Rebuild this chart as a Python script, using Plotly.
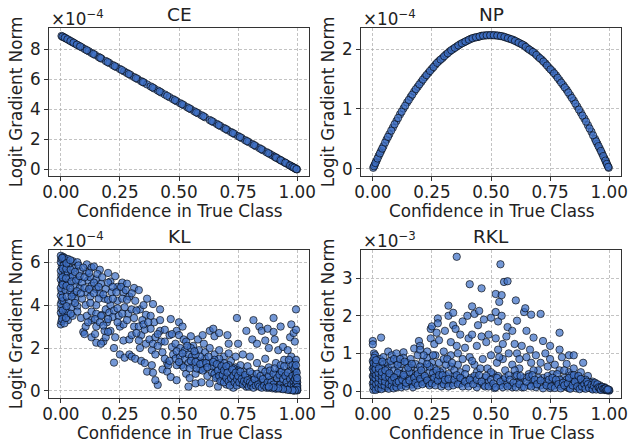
import plotly.graph_objects as go

TITLES = ["CE", "NP", "KL", "RKL"]
X_LABEL = "Confidence in True Class"
Y_LABEL = "Logit Gradient Norm"
X_TICKS = [0, 0.25, 0.5, 0.75, 1]
X_TICK_TEXT = ["0.00", "0.25", "0.50", "0.75", "1.00"]

ce_points = [(.003,8.90),(.012,8.82),(.021,8.74),(.035,8.62),(.048,8.50),(.06,8.39),(.075,8.26),(.09,8.13),(.102,8.02),(.118,7.88),(.13,7.77),(.145,7.64),(.16,7.50),(.172,7.39),(.19,7.23),(.205,7.10),(.22,6.96),(.235,6.83),(.25,6.70),(.268,6.54),(.28,6.43),(.295,6.30),(.31,6.16),(.325,6.03),(.34,5.89),(.352,5.79),(.365,5.67),(.38,5.54),(.395,5.40),(.41,5.27),(.425,5.13),(.44,5.00),(.46,4.82),(.475,4.69),(.49,4.55),(.505,4.42),(.52,4.29),(.535,4.15),(.55,4.02),(.565,3.88),(.58,3.75),(.595,3.62),(.61,3.48),(.63,3.30),(.645,3.17),(.66,3.04),(.675,2.90),(.69,2.77),(.705,2.63),(.72,2.50),(.735,2.37),(.75,2.23),(.765,2.10),(.78,1.96),(.795,1.83),(.81,1.70),(.825,1.56),(.84,1.43),(.855,1.29),(.87,1.16),(.885,1.03),(.895,.94),(.905,.85),(.915,.76),(.925,.67),(.935,.58),(.945,.49),(.955,.40),(.965,.31),(.975,.22),(.983,.15),(.99,.09),(.995,.04),(.999,.01),
(.007,8.86),(.017,8.78),(.028,8.68),(.041,8.56),(.054,8.45),(.068,8.32),(.082,8.20),(.11,7.95),(.138,7.70),(.167,7.44),(.198,7.16),(.228,6.89),(.258,6.63),(.288,6.36),(.318,6.09),(.347,5.83),(.388,5.47),(.418,5.20),(.45,4.91),(.483,4.62),(.513,4.35),(.543,4.08),(.573,3.81),(.603,3.55),(.638,3.23),(.668,2.96),(.698,2.70),(.728,2.43),(.758,2.16),(.788,1.89),(.818,1.63),(.848,1.36),(.878,1.09),(.91,.80),(.93,.62),(.95,.45),(.97,.27),(.98,.18),(.987,.12),(.997,.03)]

np_points = [(.002,.02),(.008,.07),(.015,.13),(.025,.22),(.035,.30),(.045,.38),(.058,.49),(.07,.58),(.085,.69),(.10,.80),(.115,.91),(.13,1.01),(.145,1.11),(.16,1.20),(.175,1.29),(.19,1.37),(.205,1.45),(.22,1.53),(.235,1.60),(.25,1.67),(.265,1.74),(.28,1.80),(.295,1.85),(.31,1.91),(.325,1.96),(.34,2.00),(.355,2.04),(.37,2.08),(.385,2.11),(.40,2.14),(.415,2.17),(.43,2.19),(.445,2.20),(.46,2.22),(.475,2.226),(.49,2.23),(.505,2.23),(.52,2.227),(.535,2.22),(.55,2.21),(.565,2.19),(.58,2.17),(.595,2.15),(.61,2.12),(.625,2.09),(.64,2.06),(.655,2.01),(.67,1.97),(.685,1.93),(.70,1.87),(.715,1.82),(.73,1.76),(.745,1.69),(.76,1.63),(.775,1.56),(.79,1.48),(.805,1.40),(.82,1.32),(.835,1.23),(.85,1.14),(.865,1.04),(.88,.94),(.895,.84),(.91,.73),(.925,.62),(.94,.50),(.95,.42),(.96,.34),(.97,.26),(.98,.175),(.987,.115),(.993,.06),(.998,.02),
(.005,.045),(.011,.10),(.02,.175),(.03,.26),(.04,.34),(.052,.44),(.064,.535),(.078,.64),(.092,.745),(.107,.85),(.122,.955),(.137,1.055),(.152,1.15),(.167,1.24),(.182,1.33),(.197,1.41),(.212,1.49),(.227,1.565),(.242,1.635),(.257,1.70),(.272,1.77),(.287,1.825),(.302,1.88),(.317,1.93),(.332,1.98),(.347,2.02),(.362,2.06),(.377,2.095),(.392,2.125),(.407,2.155),(.422,2.18),(.437,2.195),(.452,2.21),(.467,2.223),(.482,2.228),(.497,2.23),(.512,2.229),(.527,2.224),(.542,2.215),(.557,2.20),(.572,2.18),(.587,2.16),(.602,2.135),(.617,2.105),(.632,2.075),(.647,2.035),(.662,1.99),(.677,1.95),(.692,1.90),(.707,1.845),(.722,1.79),(.737,1.725),(.752,1.66),(.767,1.595),(.782,1.52),(.797,1.44),(.812,1.36),(.827,1.275),(.842,1.185),(.857,1.09),(.872,.99),(.887,.89),(.902,.79),(.917,.675),(.932,.56),(.945,.46),(.955,.38),(.965,.30),(.975,.215),(.984,.14),(.99,.085),(.996,.035)]

kl_points = [
(0,3.1),(.003,3.25),(.005,3.5),(0,3.65),(.002,3.85),(0,4.05),(.004,4.2),(0,4.45),(.003,4.65),(0,4.8),(.005,5.0),(0,5.2),(.002,5.4),(0,5.6),(.004,5.8),(0,6.0),(.002,6.15),(0,6.3),(.01,6.25),(.015,6.2),(.02,6.1),(.012,5.85),(.018,5.5),(.01,5.1),(.02,4.7),(.012,4.2),(.02,3.8),(.015,3.5),(.03,3.3),(.03,3.65),(.03,6.15),(.035,5.9),(.03,5.5),(.04,5.3),(.03,5.0),(.04,4.6),(.035,4.15),(.045,3.9),(.05,3.5),(.05,6.05),(.055,5.7),(.05,5.35),(.06,4.9),(.055,4.5),(.06,4.3),(.07,3.95),(.07,3.7),(.07,6.0),(.08,5.6),(.075,5.2),(.08,4.8),(.09,4.3),(.085,3.4),(.095,2.75),(.1,2.65),(.105,3.0),(.11,3.5),(.105,4.0),(.11,4.6),(.115,5.15),(.11,5.55),(.11,5.9),(.13,5.75),(.125,5.3),(.13,4.9),(.125,4.4),(.13,3.7),(.13,3.3),(.13,2.5),(.145,2.65),(.15,2.25),(.15,3.0),(.15,3.6),(.15,4.0),(.15,4.75),(.15,5.2),(.14,5.8),(.165,5.65),(.17,5.0),(.165,4.55),(.175,3.55),(.17,3.5),(.18,2.3),(.17,2.2),(.19,2.5),(.185,2.8),(.195,3.2),(.19,3.8),(.185,4.3),(.19,4.75),(.2,5.5),(.21,5.1),(.215,4.6),(.21,4.0),(.205,3.65),(.21,2.8),(.22,3.45),(.225,2.0),(.225,1.32),(.23,2.5),(.23,5.35),(.24,4.85),(.24,4.2),(.245,3.5),(.25,3.0),(.25,1.7),(.265,2.35),(.27,1.55),(.26,5.05),(.265,4.6),(.27,3.9),(.265,3.1),(.28,5.0),(.29,4.4),(.285,3.6),(.29,2.4),(.29,1.7),(.3,1.6),(.31,4.8),(.315,4.2),(.31,3.4),(.31,3.0),(.315,1.5),(.33,4.7),(.335,3.8),(.33,3.0),(.34,2.6),(.335,2.0),(.34,1.4),(.35,4.0),(.36,3.55),(.355,2.85),(.36,2.2),(.355,1.3),(.365,.9),(.365,4.3),(.38,3.5),(.38,2.9),(.375,2.4),(.385,1.9),(.385,1.2),(.39,.85),(.395,3.2),(.4,2.5),(.4,1.7),(.39,4.05),(.41,.28),(.4,.5),(.42,3.8),(.42,3.3),(.42,2.8),(.425,2.3),(.43,1.8),(.43,1.0),(.44,2.85),(.44,2.3),(.45,1.3),(.455,1.2),(.45,.9),(.46,2.6),(.465,3.35),(.47,2.05),(.465,.65),(.475,1.7),(.485,1.5),(.485,2.2),(.49,.5),(.49,2.8),(.5,3.2),(.5,2.6),(.505,2.0),(.505,1.6),(.51,1.2),(.515,3.0),(.52,2.4),(.525,1.9),(.525,1.5),(.53,.8),(.54,.2),(.54,1.3),(.54,1.7),(.545,.6),(.55,2.55),(.56,2.1),(.555,1.6),(.56,1.2),(.57,.8),(.57,.35),(.58,2.4),(.585,1.9),(.58,1.4),(.59,1.0),(.595,.4),(.6,2.6),(.605,2.2),(.61,1.8),(.61,1.5),(.61,1.05),(.62,.7),(.63,2.8),(.63,2.0),(.63,1.3),(.63,.35),(.645,2.9),(.65,2.55),(.65,1.7),(.655,1.0),(.66,.65),(.665,.2),(.67,2.7),(.67,1.9),(.675,1.3),(.68,.9),(.68,.5),(.69,1.6),(.695,1.1),(.695,.7),(.7,.3),(.705,2.6),(.71,2.2),(.71,1.75),(.72,1.4),(.72,.85),(.725,.45),(.73,.15),(.74,1.6),(.74,1.1),(.745,3.4),(.75,2.2),(.755,.7),(.76,.35),(.76,1.2),(.77,1.7),(.775,.9),(.78,.5),(.785,.2),(.785,2.8),(.79,1.15),(.8,1.6),(.81,2.4),(.81,.8),(.815,3.3),(.82,.35),(.83,2.2),(.83,1.3),(.835,.6),(.84,3.0),(.85,2.8),(.85,1.0),(.855,.3),(.865,2.35),(.865,1.5),(.87,.7),(.875,2.9),(.88,2.0),(.88,1.1),(.885,.5),(.89,.2),(.9,3.4),(.9,2.75),(.905,2.4),(.91,1.3),(.91,.75),(.915,.4),(.92,1.9),(.925,1.0),(.93,3.0),(.93,.55),(.935,.2),(.94,2.05),(.945,1.45),(.945,.8),(.95,.3),(.955,.1),(.96,1.9),(.965,1.2),(.965,.65),(.97,2.5),(.975,3.1),(.975,1.6),(.975,.95),(.98,.4),(.98,.1),(.985,2.7),(.99,2.3),(.99,1.3),(.99,.8),(.99,.25),(.995,3.8),(.995,2.85),(.995,1.45),(.995,.95),(.995,.55),(.995,.15),(.998,.05),(1,.02),(1,.1),(1,.25),(1,.4),(.985,.02),(.97,.04),(.95,.08),(.93,.1),(.91,.14),(.89,.22),(.87,.3),(.85,.4),(.83,.45),(.81,.5),(.79,.6),(.77,.7),(.75,.95),(.73,1.05),(.71,1.2),(.69,1.3),(.67,1.5),(.65,1.45),(.64,1.15),(.6,1.3),(.59,1.6),(.57,1.7),(.55,2.0),(.53,2.3),
(.006,3.35),(.008,3.75),(.007,4.35),(.008,4.95),(.007,5.3),(.008,5.7),(.006,6.2),(.015,3.15),(.022,3.4),(.024,3.95),(.025,4.4),(.024,4.9),(.022,5.25),(.023,5.7),(.024,5.95),(.04,6.1),(.042,5.65),(.045,5.1),(.04,4.8),(.046,4.4),(.042,3.6),(.06,5.55),(.065,5.15),(.068,4.65),(.06,4.1),(.075,5.85),(.08,5.35),(.085,4.55),(.09,5.05),(.095,5.75),(.1,5.3),(.1,4.8),(.12,5.5),(.12,4.75),(.125,4.1),(.115,3.2),(.14,5.05),(.14,4.55),(.145,3.35),(.155,5.45),(.16,4.85),(.16,4.3),(.165,3.2),(.175,5.3),(.18,4.5),(.18,3.05),(.2,5.05),(.2,4.25),(.2,3.35),(.2,2.75),(.22,4.85),(.22,4.3),(.225,3.75),(.235,4.6),(.24,3.85),(.24,3.2),(.255,4.85),(.26,4.3),(.26,3.6),(.275,4.7),(.28,4.25),(.28,3.3),(.3,4.55),(.3,3.8),(.3,2.6),(.32,3.75),(.32,2.7),(.33,2.35),(.345,3.3),(.35,3.1),(.37,3.2),(.39,2.2),(.41,2.65),(.41,2.1),(.44,1.5),(.46,1.4),(.47,2.65),(.49,1.85),(.49,1.2),(.5,1.35),(.515,1.75),(.52,1.1),(.535,2.1),(.545,1.05),(.55,1.4),(.565,1.85),(.57,1.35),(.575,1.05),(.59,1.25),(.6,.95),(.615,1.3),(.62,1.1),(.625,1.6),(.64,.85),(.645,1.35),(.65,.8),(.655,.6),(.66,1.25),(.665,.95),(.67,.7),(.675,.45),(.68,1.15),(.685,.75),(.69,.95),(.69,.4),(.7,1.15),(.7,.6),(.705,.85),(.71,.45),(.715,.25),(.72,.6),(.725,1.0),(.73,.7),(.735,.4),(.74,.85),(.745,.55),(.745,.25),(.75,.7),(.755,.4),(.76,.9),(.765,.55),(.77,.3),(.775,.45),(.78,.75),(.785,.35),(.79,.5),(.795,.2),(.8,.4),(.8,.9),(.805,.25),(.81,.35),(.815,.15),(.82,.55),(.825,.25),(.83,.8),(.835,.3),(.84,.2),(.845,.7),(.85,.15),(.855,.55),(.86,.25),(.865,.9),(.87,.15),(.875,.4),(.88,.7),(.88,.15),(.885,.95),(.89,.4),(.895,.12),(.9,.8),(.9,.3),(.905,1.05),(.91,.1),(.915,.6),(.92,.2),(.925,.75),(.93,1.2),(.93,.3),(.935,.9),(.94,.15),(.94,.55),(.945,1.15),(.95,.7),(.955,.4),(.96,.85),(.96,.2),(.965,1.45),(.97,.55),(.97,.12),(.975,.3),(.98,1.2),(.98,.7),(.985,.45),(.985,.18),(.99,1.05),(.99,.55),(.99,.08),(.995,1.2),(.995,.7),(.995,.3),(.998,.85),(.998,.45),(.998,.15),(1,.6),(1,.18),(1,.05),(.99,.02),(.98,.03),(.96,.05),(.94,.08),(.92,.12),(.9,.16),(.88,.2)]

rkl_points = [
(0,1.33),(0,1.24),(.035,1.42),(.005,1.0),(.01,.95),(0,.8),(.005,.7),(0,.6),(.01,.5),(0,.4),(.005,.3),(0,.2),(.01,.1),(.002,.03),(.02,.05),(.015,.25),(.02,.4),(.015,.65),(.03,.85),(.03,.55),(.03,.3),(.03,.12),(.045,.9),(.045,.7),(.045,.45),(.045,.2),(.06,.75),(.06,.5),(.06,.32),(.06,.16),(.065,.6),(.07,.25),(.065,1.05),(.08,.95),(.08,.7),(.08,.4),(.09,.55),(.09,.2),(.1,1.0),(.1,.8),(.1,.35),(.11,.6),(.11,.15),(.12,.45),(.12,.72),(.13,1.03),(.13,.88),(.13,.25),(.14,.55),(.145,.75),(.15,.35),(.15,.18),(.16,.85),(.16,.62),(.17,.45),(.17,.25),(.175,1.13),(.18,.72),(.19,.95),(.19,.55),(.19,.3),(.195,1.33),(.2,1.2),(.2,1.1),(.21,.78),(.21,.42),(.22,.62),(.22,.22),(.23,1.05),(.23,.88),(.24,.5),(.245,1.65),(.245,1.4),(.25,1.72),(.25,.75),(.25,.3),(.26,1.25),(.26,.6),(.265,.95),(.27,1.55),(.27,.4),(.275,1.93),(.275,1.8),(.28,1.35),(.28,.75),(.29,.25),(.295,.55),(.3,1.05),(.3,.85),(.305,1.6),(.31,.4),(.315,.2),(.32,2.27),(.32,2.0),(.33,1.3),(.33,.95),(.33,.65),(.34,2.08),(.34,1.75),(.34,.4),(.35,1.65),(.355,3.57),(.355,1.2),(.36,1.0),(.36,.7),(.365,.3),(.37,1.5),(.37,.5),(.38,1.85),(.38,.85),(.39,1.15),(.395,.6),(.4,2.0),(.405,1.4),(.41,2.84),(.41,.9),(.415,.35),(.42,2.25),(.42,1.5),(.43,2.05),(.43,.7),(.44,1.2),(.44,.5),(.445,1.75),(.45,2.13),(.45,.2),(.46,2.73),(.46,1.45),(.465,.85),(.47,1.9),(.475,.35),(.48,1.3),(.485,.6),(.49,1.5),(.5,1.95),(.5,.95),(.505,.15),(.51,.45),(.52,2.58),(.52,2.1),(.52,1.4),(.525,.75),(.53,1.85),(.53,1.1),(.535,2.37),(.54,3.37),(.545,2.55),(.545,2.0),(.55,1.25),(.55,.85),(.55,.3),(.555,2.9),(.56,.55),(.565,1.45),(.57,2.92),(.57,1.7),(.575,1.0),(.58,.15),(.59,1.6),(.59,.7),(.6,1.25),(.6,.4),(.605,2.41),(.61,1.87),(.61,1.0),(.62,.6),(.625,.25),(.63,1.2),(.64,2.1),(.645,2.2),(.65,1.6),(.65,.9),(.66,.45),(.665,1.1),(.67,2.03),(.67,.75),(.68,1.42),(.68,.2),(.69,.95),(.7,.55),(.71,2.05),(.71,.75),(.72,1.33),(.72,.35),(.73,1.0),(.74,.65),(.74,.15),(.75,1.2),(.75,.85),(.76,.45),(.77,.7),(.78,.25),(.79,1.55),(.79,1.1),(.79,.55),(.8,.9),(.81,.35),(.82,.72),(.82,.1),(.83,.95),(.83,.5),(.84,.25),(.85,.95),(.85,.6),(.86,.38),(.87,.12),(.88,.5),(.89,.75),(.89,.3),(.9,.15),(.91,.4),(.92,.1),(.93,.25),(.94,.18),(.95,.08),(.96,.15),(.97,.05),(.98,.1),(.99,.05),(.995,.02),(1,.01),(1,.03),(.985,.03),
(.02,.15),(.035,.62),(.05,.08),(.07,.12),(.085,.28),(.095,.13),(.105,.48),(.115,.3),(.125,.16),(.135,.38),(.155,.5),(.165,.17),(.18,.4),(.185,.2),(.2,.65),(.205,.25),(.215,.95),(.225,.35),(.235,.2),(.24,.65),(.255,.48),(.265,.25),(.285,.5),(.295,.3),(.31,.7),(.32,.45),(.335,.22),(.345,.55),(.37,.2),(.38,.32),(.39,.45),(.4,.2),(.42,.28),(.43,.4),(.44,.1),(.455,.6),(.47,.15),(.49,.25),(.5,.5),(.515,.08),(.53,.4),(.54,.15),(.56,.2),(.59,.1),(.6,.55),(.61,.22),(.62,.85),(.63,.1),(.64,.35),(.66,.15),(.67,.3),(.68,.55),(.69,.1),(.7,.35),(.71,.15),(.73,.25),(.74,.4),(.75,.08),(.76,.25),(.77,.15),(.78,.45),(.79,.3),(.8,.12),(.81,.55),(.82,.3),(.83,.08),(.84,.42),(.85,.2),(.86,.07),(.87,.3),(.88,.2),(.89,.08),(.9,.3),(.91,.12),(.92,.22),(.93,.06),(.94,.08),(.95,.12),(.96,.04),(.97,.09),(.98,.03),(.99,.02),
(.003,.12),(.004,.25),(.003,.37),(.006,.47),(.004,.55),(.006,.65),(.003,.75),(.006,.88),(.012,.03),(.014,.18),(.012,.33),(.014,.43),(.012,.58),(.014,.72),(.014,.82),(.024,.08),(.024,.22),(.025,.35),(.024,.48),(.026,.6),(.036,.05),(.037,.17),(.038,.27),(.038,.4),(.038,.5),(.04,.78),(.05,.14),(.052,.25),(.052,.38),(.053,.55),(.067,.06),(.068,.18),(.07,.36),(.07,.47),(.075,.8),(.08,.14),(.08,.28),(.088,.07),(.09,.36),(.09,.85),(.1,.1),(.1,.22),(.105,.7),(.11,.25),(.115,.85),(.12,.1),(.125,.3),(.13,.43),(.135,.78),(.14,.12),(.14,.22),(.15,.62),(.155,.28),(.165,.72),(.17,.1),(.175,.35),(.18,.22),(.19,.15),(.19,.45),(.2,.32),(.205,.55),(.21,.18),(.22,.4),(.23,.28),(.23,.72),(.24,.15),(.25,.2),(.255,.95),(.26,.35),(.265,.15),(.27,.55),(.275,.28),(.28,.42),(.29,.12),(.295,.42),(.3,.18),(.305,.3),(.315,.85),(.32,.12),(.32,.32),(.335,.75),(.34,.15),(.345,.3),(.355,.42),(.36,.18),(.37,.35),(.38,.12),(.39,.25),(.405,.12),(.41,.3),(.42,.8),(.425,.18),(.44,.3),(.45,.42),(.46,.25),(.475,.12),(.48,.4),(.49,.12),(.5,.3),(.51,.2),(.52,.1),(.525,.35),(.535,.9),(.54,.25),(.55,.1),(.56,.35),(.57,.12),(.575,.42),(.58,.3),(.595,.22),(.605,.1),(.61,.42),(.62,.18),(.625,.4),(.64,.1),(.65,.25),(.66,.38),(.67,.12),(.675,.42),(.685,.3),(.695,.18),(.71,.28),(.72,.07),(.735,.15),(.745,.3),(.755,.12),(.76,.35),(.77,.08),(.775,.3),(.785,.18),(.795,.07),(.805,.22),(.81,.15),(.825,.2),(.83,.35),(.835,.06),(.845,.15),(.85,.42),(.855,.25),(.865,.12),(.87,.4),(.875,.05),(.88,.32),(.885,.12),(.895,.18),(.9,.06),(.905,.25),(.91,.18),(.915,.08),(.925,.16),(.93,.04),(.935,.14),(.94,.22),(.945,.04),(.95,.18),(.955,.1),(.96,.08),(.965,.03),(.97,.11),(.975,.06),(.98,.06),(.985,.07),(.99,.03),(.995,.04)]

panel_points = [ce_points, np_points, kl_points, rkl_points]
y_ticks = [[0, 2, 4, 6, 8], [0, 1, 2], [0, 2, 4, 6], [0, 1, 2, 3]]
y_ranges = [[-0.43, 9.43], [-0.117, 2.35], [-0.33, 6.57], [-0.186, 3.75]]
exponents = ["\u22124", "\u22124", "\u22124", "\u22123"]

W, H = 629, 442
x_domains = [(49, 309), (361, 621), (49, 309), (361, 621)]
y_domains = [(28, 176), (28, 176), (250, 398), (250, 398)]
FONT = "DejaVu Sans"
INK = "#222222"
GRID = "rgba(170,170,170,0.7)"
TEXT_SIZE = 16.8

fig = go.Figure()
for i, pts in enumerate(panel_points):
    ax = "" if i == 0 else str(i + 1)
    xs = [p[0] for p in pts]
    ys = [p[1] for p in pts]
    fig.add_trace(go.Scatter(
        x=xs, y=ys, mode="markers", xaxis="x" + ax, yaxis="y" + ax, showlegend=False,
        marker=dict(size=7.4, color="rgba(62,112,198,0.72)", line=dict(color="rgba(0,0,0,0.7)", width=0.9)),
    ))
    axis_common = dict(
        showline=True, mirror=True, linecolor="#333333", linewidth=1,
        ticks="outside", ticklen=4, tickwidth=1, tickcolor="#333333", automargin=False,
        showgrid=True, gridcolor=GRID, griddash="3px,2px", gridwidth=0.8, zeroline=False,
        tickfont=dict(family=FONT, size=TEXT_SIZE, color=INK),
    )
    fig.update_layout({
        "xaxis" + ax: dict(
            axis_common, domain=[x_domains[i][0] / W, x_domains[i][1] / W], range=[-0.05, 1.05],
            anchor="y" + ax, tickvals=X_TICKS, ticktext=X_TICK_TEXT, ticklabelstandoff=-3,
        ),
        "yaxis" + ax: dict(
            axis_common, domain=[1 - y_domains[i][1] / H, 1 - y_domains[i][0] / H], range=y_ranges[i],
            anchor="x" + ax, tickvals=y_ticks[i],
            title=dict(text=Y_LABEL, font=dict(family=FONT, size=TEXT_SIZE, color=INK), standoff=3),
        ),
    })
    # x-axis label, placed below the tick labels without touching them
    fig.add_annotation(
        x=sum(x_domains[i]) / 2 / W, y=1 - (y_domains[i][1] + 35) / H, xref="paper", yref="paper",
        text=X_LABEL, showarrow=False, xanchor="center", yanchor="middle",
        font=dict(family=FONT, size=TEXT_SIZE, color=INK),
    )
    fig.add_annotation(
        x=sum(x_domains[i]) / 2 / W, y=1 - (y_domains[i][0] - 1) / H, xref="paper", yref="paper",
        text=TITLES[i], showarrow=False, xanchor="center", yanchor="bottom",
        font=dict(family=FONT, size=18.5, color=INK),
    )
    fig.add_annotation(
        x=x_domains[i][0] / W, y=1 - (y_domains[i][0] + 3) / H, xref="paper", yref="paper",
        text="\u00d710<sup>" + exponents[i] + "</sup>", showarrow=False, xanchor="left", yanchor="bottom",
        font=dict(family=FONT, size=TEXT_SIZE, color=INK),
    )

fig.update_layout(
    width=W, height=H, margin=dict(l=0, r=0, t=0, b=0),
    paper_bgcolor="white", plot_bgcolor="white",
)
fig.write_html("out.html", config={"displayModeBar": False}, post_script="document.body.style.margin='0';")
